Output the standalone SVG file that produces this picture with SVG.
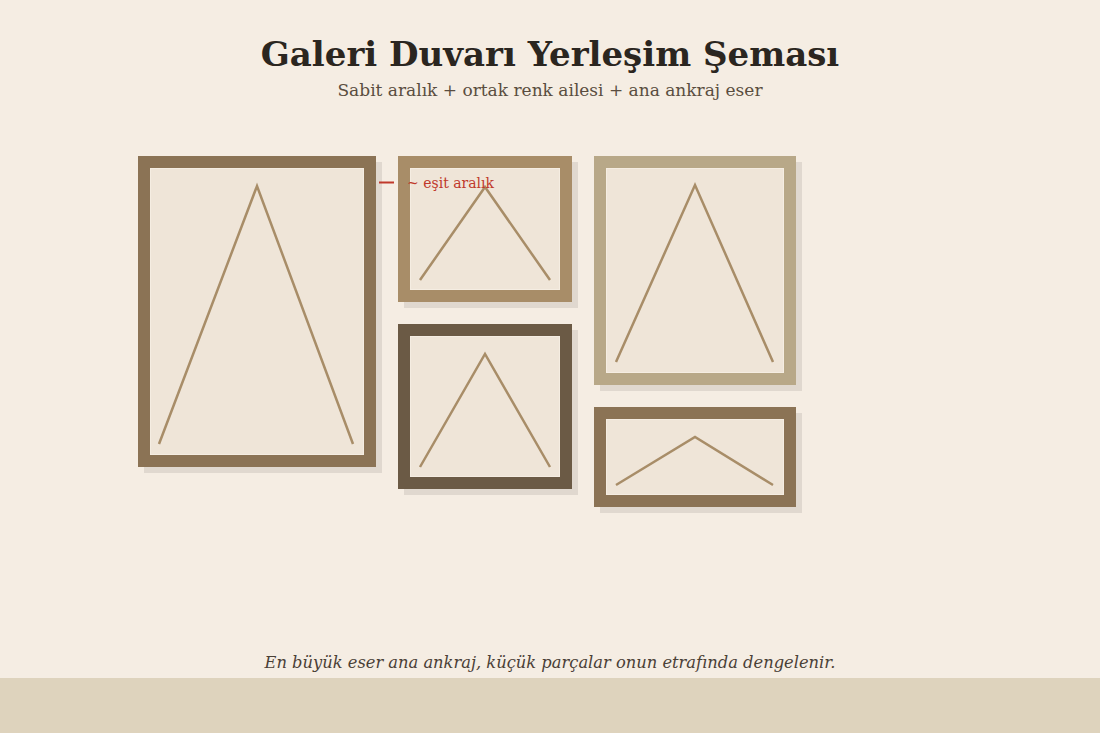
<svg xmlns="http://www.w3.org/2000/svg" width="1100" height="733" viewBox="0 0 1100 733">
<style>
.title{font-family:"DejaVu Serif","Liberation Serif",serif;font-weight:bold;font-size:34px;fill:#2b2620;text-anchor:middle}
.sub{font-family:"DejaVu Serif","Liberation Serif",serif;font-size:17px;fill:#5a4d40;text-anchor:middle}
.foot{font-family:"DejaVu Serif","Liberation Serif",serif;font-style:italic;font-size:16.3px;fill:#4a4036;text-anchor:middle}
.note{font-family:"DejaVu Serif","Liberation Serif",serif;font-size:14px;fill:#c0392b}
.shadow{fill:#e0d8cf}
.mat{fill:#efe5d8;stroke:#f5ede2;stroke-width:1}
.art{fill:none;stroke:#a88d68;stroke-width:2.5;stroke-linejoin:miter}
</style>
<rect x="0" y="0" width="1100" height="733" fill="#f5ede3"/>
<rect x="0" y="678" width="1100" height="55" fill="#ded3bd"/>
<text class="title" x="550" y="66">Galeri Duvarı Yerleşim Şeması</text>
<text class="sub" x="550" y="96">Sabit aralık + ortak renk ailesi + ana ankraj eser</text>

<g id="frame1">
<rect class="shadow" x="144" y="162" width="238" height="311"/>
<rect x="138" y="156" width="238" height="311" fill="#8b7355"/>
<rect class="mat" x="150.5" y="168.5" width="213" height="286"/>
<polyline class="art" points="159,444 257,186 353,444"/>
</g>
<g id="frame2">
<rect class="shadow" x="404" y="162" width="174" height="146"/>
<rect x="398" y="156" width="174" height="146" fill="#a88d68"/>
<rect class="mat" x="410.5" y="168.5" width="149" height="121"/>
<polyline class="art" points="420,280 485,187 550,280"/>
</g>
<g id="frame3">
<rect class="shadow" x="404" y="330" width="174" height="165"/>
<rect x="398" y="324" width="174" height="165" fill="#6b5a45"/>
<rect class="mat" x="410.5" y="336.5" width="149" height="140"/>
<polyline class="art" points="420,467 485,354 550,467"/>
</g>
<g id="frame4">
<rect class="shadow" x="600" y="162" width="202" height="229"/>
<rect x="594" y="156" width="202" height="229" fill="#b8a888"/>
<rect class="mat" x="606.5" y="168.5" width="177" height="204"/>
<polyline class="art" points="616,362 695,185 773,362"/>
</g>
<g id="frame5">
<rect class="shadow" x="600" y="413" width="202" height="100"/>
<rect x="594" y="407" width="202" height="100" fill="#8b7355"/>
<rect class="mat" x="606.5" y="419.5" width="177" height="75"/>
<polyline class="art" points="616,485 695,437 773,485"/>
</g>
<g id="connectors">
<line x1="379" y1="182.5" x2="394" y2="182.5" stroke="#c0392b" stroke-width="2"/>
<text class="note" x="407" y="188">~ eşit aralık</text>
</g>
<text class="foot" x="550" y="668">En büyük eser ana ankraj, küçük parçalar onun etrafında dengelenir.</text>
</svg>
